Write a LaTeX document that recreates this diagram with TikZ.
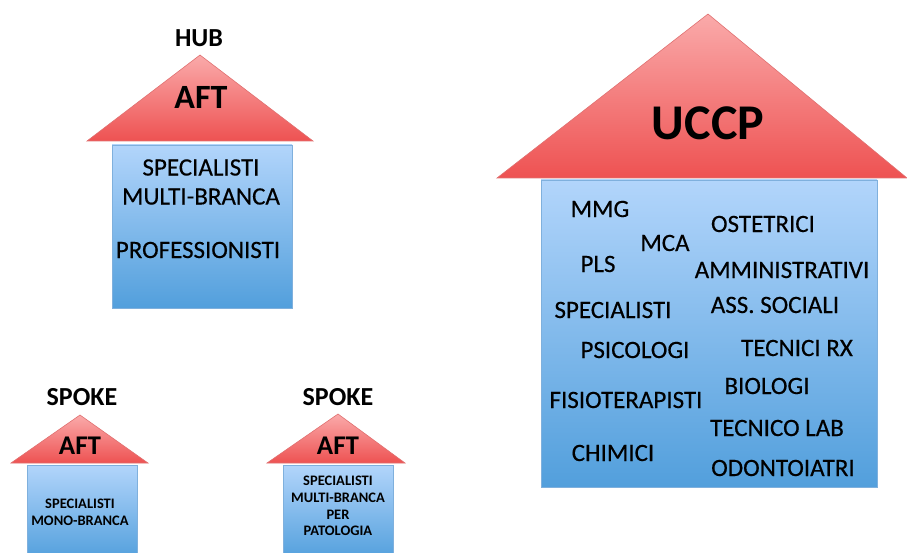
\documentclass[tikz,border=0pt]{standalone}
\usepackage{fontspec}
\setmainfont{Carlito}
\newfontfamily\medfont[FakeBold=0.35]{Carlito}
\definecolor{roofTop}{HTML}{FAAAAA}
\definecolor{roofBot}{HTML}{EE5252}
\definecolor{roofLine}{HTML}{E07070}
\definecolor{bodyTop}{HTML}{B2D5FB}
\definecolor{bodyBot}{HTML}{529FDC}
\definecolor{bodyLine}{HTML}{7FB0DD}
\tikzset{
  roof/.style={draw=roofLine, line width=0.6pt, top color=roofTop, bottom color=roofBot},
  body/.style={draw=bodyLine, line width=0.6pt, top color=bodyTop, bottom color=bodyBot},
  lbl/.style={font=\medfont\fontsize{25}{28}\selectfont, inner sep=0pt, align=center},
  title/.style={font=\fontsize{26}{30}\selectfont\bfseries, inner sep=0pt},
  small/.style={font=\fontsize{14.5}{16.7}\selectfont\bfseries, inner sep=0pt, align=center},
}
\begin{document}
\begin{tikzpicture}[x=1pt,y=-1pt]
\useasboundingbox (0,0) rectangle (907,553);
% HUB
\path[body] (112,145) rectangle (292,308);
\path[roof] (87,141) -- (200,55) -- (313,141) -- cycle;
\node[title] (hub) at (199,38) {HUB};
\node[font=\fontsize{34}{36}\selectfont\bfseries, inner sep=0pt] (hubaft) at (201,97) {AFT};
\node[lbl] (hub1) at (201,182) {SPECIALISTI\\[1pt]MULTI-BRANCA};
\node[lbl] (hub2) at (198,250) {PROFESSIONISTI};
% SPOKE 1
\path[body] (27,465) rectangle (137,560);
\path[roof] (11,463) -- (80,415) -- (148,463) -- cycle;
\node[title] (sp1) at (82,397) {SPOKE};
\node[font=\fontsize{27}{29}\selectfont\bfseries, inner sep=0pt] (sp1aft) at (80,446) {AFT};
\node[small] (sp1t) at (80,512) {SPECIALISTI\\MONO-BRANCA};
% SPOKE 2
\path[body] (283,465) rectangle (393,560);
\path[roof] (267,463) -- (338,414) -- (405,463) -- cycle;
\node[title] (sp2) at (338,397) {SPOKE};
\node[font=\fontsize{27}{29}\selectfont\bfseries, inner sep=0pt] (sp2aft) at (338,446) {AFT};
\node[small] (sp2t) at (338,506) {SPECIALISTI\\MULTI-BRANCA\\PER\\PATOLOGIA};
% UCCP
\path[body] (541,180) rectangle (877,487);
\path[roof] (497,178) -- (708,14) -- (907,178) -- cycle;
\node[font=\fontsize{50}{54}\selectfont\bfseries, inner sep=0pt] (uccp) at (708,123) {UCCP};
\node[lbl] (mmg) at (600,209) {MMG};
\node[lbl] (ost) at (763,224) {OSTETRICI};
\node[lbl] (mca) at (665,243) {MCA};
\node[lbl] (pls) at (598,264) {PLS};
\node[lbl] (amm) at (782,270) {AMMINISTRATIVI};
\node[lbl] (spec) at (613,310) {SPECIALISTI};
\node[lbl] (ass) at (775,305) {ASS. SOCIALI};
\node[lbl] (psi) at (635,350) {PSICOLOGI};
\node[lbl] (trx) at (797,348) {TECNICI RX};
\node[lbl] (bio) at (767,386) {BIOLOGI};
\node[lbl] (fis) at (626,400) {FISIOTERAPISTI};
\node[lbl] (tlab) at (777,428) {TECNICO LAB};
\node[lbl] (chi) at (613,453) {CHIMICI};
\node[lbl] (odo) at (783,468) {ODONTOIATRI};
\end{tikzpicture}
\end{document}
